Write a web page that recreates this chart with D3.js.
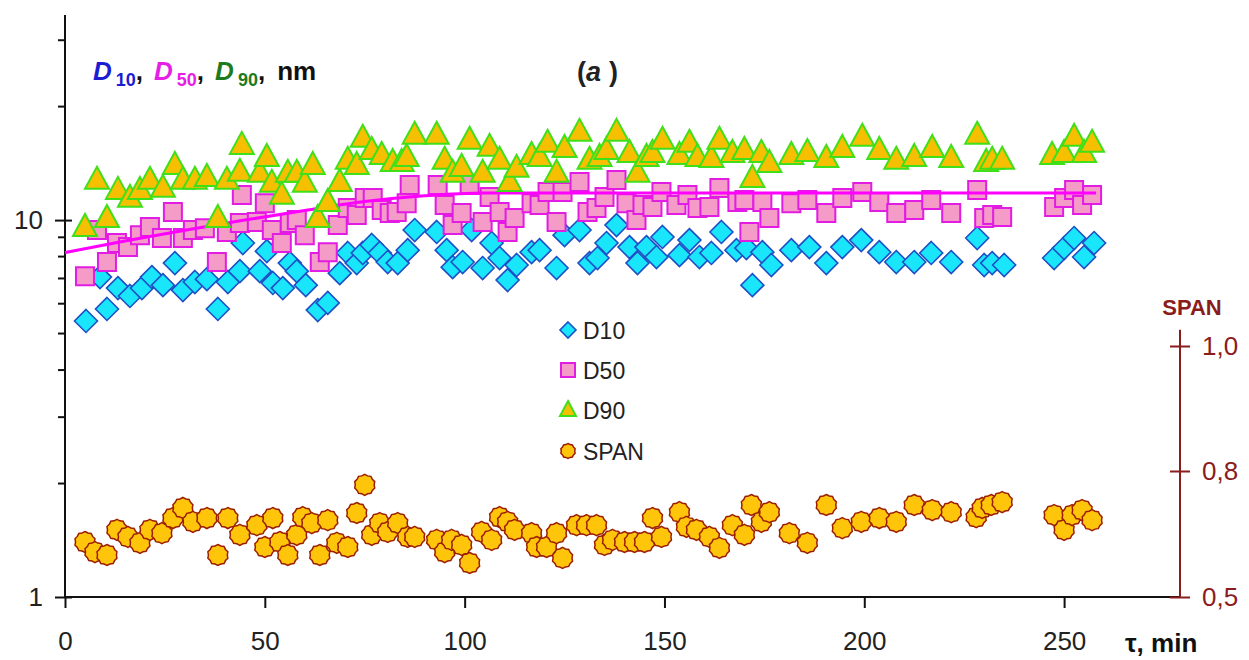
<!DOCTYPE html>
<html><head><meta charset="utf-8">
<script src="https://cdn.jsdelivr.net/npm/d3@7"></script>
<style>
html,body{margin:0;padding:0;background:#fff;}
svg{display:block;font-family:"Liberation Sans",Arial,sans-serif;}
</style></head><body>
<svg id="chart" width="1249" height="660"></svg>
<script>
// Axis ticks
const xTicks = [0, 50, 100, 150, 200, 250];
const yMajorTicks = [1, 10];
const yMinorTicks = [2, 3, 4, 5, 6, 7, 8, 9, 20, 30];
const spanTicks = [0.5, 0.8, 1.0];
const legendNames = ["D10", "D50", "D90", "SPAN"];

// [time, min ; diameter, nm]
const d10 = [[5.25,5.4],[8.75,7.06],[10.5,5.81],[13.25,6.6],[16.25,6.29],[19.25,6.6],[21.75,7.06],[24.5,6.72],[27.5,7.69],[29.5,6.52],[32.5,6.85],[35.5,6.97],[38.25,5.81],[40.75,6.85],[43.75,7.32],[44.5,8.69],[48.75,7.32],[50.5,8.27],[52,6.81],[54.5,6.6],[56.25,7.69],[58,7.32],[60.25,6.72],[63.25,5.77],[65.75,6.03],[68.75,7.23],[70.75,8.18],[73,7.69],[74.5,8.18],[76.75,8.59],[78.75,8.18],[80.75,7.74],[83.25,7.69],[85.75,8.32],[87.5,9.41],[93,9.3],[95.5,8.32],[97,7.5],[99.5,7.74],[101.75,9.41],[104.5,7.46],[106.75,8.69],[108.75,7.93],[110.75,6.93],[113,7.6],[116.75,8.22],[118.75,8.32],[123,7.46],[125,9.12],[128.75,9.41],[131.25,7.69],[133.25,7.93],[135.5,8.69],[138,9.7],[141.25,8.48],[143.25,7.69],[145.5,8.48],[148,7.98],[149.5,9.02],[153.75,8.07],[156.25,8.85],[158.75,7.98],[161.75,8.18],[164.25,9.3],[168,8.32],[170.5,8.43],[172,6.72],[174.5,8.22],[176.75,7.6],[181.75,8.32],[186.25,8.48],[190.5,7.69],[194.5,8.48],[199.25,8.85],[203.75,8.22],[208,7.74],[212.5,7.74],[216.75,8.18],[221.75,7.74],[228.25,8.96],[230,7.6],[232,7.69],[235,7.6],[247.5,7.93],[250,8.43],[252.5,8.96],[255,7.98],[257.5,8.69]];

const d50 = [[5,7.1],[8,9.41],[10.5,7.74],[13,8.69],[15.75,8.48],[18.75,9.12],[21.25,9.58],[24.25,8.96],[27,10.5],[29.5,8.96],[32,9.41],[35,9.52],[38,7.74],[40.5,9.3],[43.75,9.82],[44.25,11.65],[48,9.89],[50,11.09],[51.75,9.41],[54.25,8.69],[56.25,9.82],[58,10.0],[60,9.12],[63.75,7.74],[65.75,8.22],[68.25,9.7],[70.75,10.76],[73,10.31],[75,11.44],[77,11.44],[79.25,10.63],[81.25,10.44],[83,10.5],[85.5,11.09],[86.25,12.38],[93.25,12.38],[95,10.96],[97,9.7],[99.25,10.44],[101.25,12.38],[104.5,9.89],[106.25,11.51],[108.75,10.5],[110.75,9.3],[112.5,10.12],[116.75,11.09],[118.75,10.96],[120.75,11.87],[123,9.89],[124.5,11.87],[128.75,12.61],[130.75,10.5],[133,10.76],[135,11.51],[138,12.77],[140.5,11.09],[143,10.0],[144.5,10.96],[147,10.83],[149.25,11.87],[153,10.96],[155.75,11.65],[158.25,10.76],[161.25,10.83],[163.75,12.16],[168.25,11.16],[170,11.3],[171.25,9.3],[174.5,11.16],[176.25,10.12],[181.75,11.09],[185.75,11.3],[190.5,10.44],[194.5,11.44],[199.5,11.87],[203.75,11.16],[208,10.44],[212.5,10.63],[216.75,11.3],[221.75,10.44],[228.25,12.01],[230,10.12],[232,10.31],[234.5,10.19],[247.5,10.83],[250,11.44],[252.5,12.01],[254.5,10.96],[257,11.65]];

const d90 = [[5,9.58],[8,12.77],[10.5,10.12],[13.25,12.01],[16.25,11.44],[18.75,12.01],[21.25,12.77],[24.5,12.16],[27.5,13.99],[29.5,12.77],[32.5,12.77],[35.5,13.0],[38.25,10.12],[40.5,12.77],[43.75,13.41],[44.25,15.81],[48.75,13.33],[50.5,14.69],[51.75,12.54],[54.25,11.65],[55.75,13.33],[58,13.33],[60,12.54],[62,13.99],[63.25,10.12],[65.75,11.16],[68.75,12.61],[70.75,14.43],[73,13.99],[74.5,16.51],[76.75,15.33],[79.25,14.87],[82,14.25],[84.25,14.25],[85.5,14.69],[87.5,16.81],[93,16.81],[95,14.43],[97,13.33],[99.25,13.82],[101.25,16.31],[104.5,13.33],[106.25,15.62],[108.75,14.43],[111.25,12.61],[113,13.74],[116.75,14.87],[118.75,14.69],[120.75,16.01],[123,13.33],[125,15.52],[128.75,17.12],[131.25,14.43],[133.75,14.69],[135.5,15.33],[138,17.12],[141.25,15.05],[143.25,13.33],[145.5,14.69],[147,15.05],[149.5,16.31],[153.75,14.87],[156.25,16.01],[158.25,14.69],[161.75,14.6],[163.75,16.31],[167,15.05],[170,15.33],[172,12.92],[174.25,15.05],[176.25,14.16],[181.75,14.87],[185.75,15.14],[190.5,14.6],[194.5,15.52],[199.5,16.61],[203.75,15.33],[208,14.43],[212.5,14.69],[217,15.52],[221.75,14.6],[228.25,16.81],[230.5,14.25],[232,14.43],[234.5,14.43],[247,14.87],[250,15.05],[252.5,16.61],[255,15.05],[257,16.01]];

// [time, min ; span]
const span = [[5,0.631],[7.5,0.607],[10.5,0.6],[13,0.66],[15.75,0.643],[18.75,0.629],[21.25,0.66],[24.25,0.652],[27,0.688],[29.5,0.712],[32,0.679],[35.5,0.688],[38.25,0.6],[40.75,0.688],[43.75,0.648],[48,0.671],[50,0.619],[52,0.688],[53.75,0.631],[55.75,0.6],[58,0.648],[59.5,0.69],[61.75,0.676],[63.75,0.6],[65.75,0.683],[68,0.629],[70.75,0.619],[73,0.7],[75,0.767],[76.75,0.648],[78.75,0.676],[80.75,0.655],[83.25,0.676],[85.75,0.643],[87.5,0.643],[93,0.636],[95,0.607],[96.75,0.636],[99.25,0.624],[101.25,0.581],[104.25,0.655],[106.75,0.636],[108.75,0.69],[110.75,0.679],[112.5,0.66],[116.75,0.652],[118,0.619],[120.5,0.619],[123,0.652],[124.5,0.593],[128,0.671],[130.5,0.671],[133,0.671],[135,0.624],[137,0.636],[140,0.631],[142.5,0.631],[145,0.631],[147,0.688],[149.25,0.643],[153.75,0.702],[155.5,0.667],[158,0.66],[161.25,0.643],[163.75,0.617],[167,0.671],[170,0.648],[171.75,0.719],[174.25,0.679],[176.25,0.702],[181.25,0.652],[185.75,0.629],[190.5,0.719],[194.5,0.664],[199.25,0.679],[203.75,0.688],[208,0.679],[212.5,0.719],[217,0.707],[221.75,0.702],[228,0.69],[229.5,0.712],[231.75,0.719],[234.5,0.726],[247.5,0.695],[250,0.66],[252,0.695],[254.5,0.707],[257,0.683]];

// D50 trend curve
const d50Trend = [[0,8.2],[15,8.8],[30,9.4],[45,10.0],[60,10.6],[75,11.2],[90,11.6],[105,11.8],[258,11.8]];

const svg = d3.select("#chart");

const x = d3.scaleLinear().domain([0, 279]).range([65, 1180]);
const y = d3.scaleLog().domain([1, 35]).range([597, 15]);
const ySpan = d3.scaleLinear().domain([0.5, 0.8, 1.0]).range([597, 471, 346]);

const commaFmt = d3.formatLocale({decimal: ",", thousands: " ", grouping: [3], currency: ["", ""]}).format(".1f");

const axisColor = "#111";
const spanColor = "#8b1c1c";
const labelFont = 26;
const fontFamily = "Liberation Sans, Arial, sans-serif";

// ---- left log axis ----
const gy = svg.append("g").attr("transform", `translate(${x(0)},0)`);
gy.call(d3.axisLeft(y).tickValues(yMajorTicks).tickSize(10).tickPadding(12).tickFormat(d3.format("d")));
gy.select(".domain").remove();
gy.selectAll(".tick line").attr("x1", 7).attr("stroke", axisColor).attr("stroke-width", 2);
gy.selectAll(".tick text").attr("font-size", labelFont).attr("font-family", fontFamily).attr("fill", "#222");
gy.selectAll(".minor").data(yMinorTicks).join("line")
  .attr("class", "minor")
  .attr("x1", -7).attr("x2", 0)
  .attr("y1", d => y(d)).attr("y2", d => y(d))
  .attr("stroke", axisColor).attr("stroke-width", 2);
gy.append("line").attr("x1", 0).attr("x2", 0).attr("y1", y(1)).attr("y2", y(35))
  .attr("stroke", axisColor).attr("stroke-width", 2);

// ---- bottom axis ----
const gx = svg.append("g").attr("transform", `translate(0,${y(1)})`);
gx.call(d3.axisBottom(x).tickValues(xTicks).tickSize(11).tickPadding(24));
gx.select(".domain").remove();
gx.selectAll(".tick line").attr("stroke", axisColor).attr("stroke-width", 2);
gx.selectAll(".tick text").attr("font-size", labelFont).attr("font-family", fontFamily).attr("fill", "#222");
gx.append("line").attr("x1", x(0)).attr("x2", x(279)).attr("y1", 0).attr("y2", 0)
  .attr("stroke", axisColor).attr("stroke-width", 2);

// ---- right SPAN axis ----
const gr = svg.append("g").attr("transform", `translate(${x(279)},0)`);
gr.call(d3.axisRight(ySpan).tickValues(spanTicks).tickSize(10).tickPadding(12).tickFormat(commaFmt));
gr.select(".domain").remove();
gr.selectAll(".tick line").attr("x1", -10).attr("stroke", spanColor).attr("stroke-width", 2);
gr.selectAll(".tick text").attr("font-size", labelFont).attr("font-family", fontFamily).attr("fill", spanColor);
gr.append("line").attr("x1", 0).attr("x2", 0).attr("y1", ySpan(0.5)).attr("y2", ySpan(1.026))
  .attr("stroke", spanColor).attr("stroke-width", 2);
svg.append("text").attr("x", x(279) + 12).attr("y", 315).attr("text-anchor", "middle")
  .attr("font-size", 22).attr("font-weight", "bold").attr("fill", spanColor).text("SPAN");

svg.append("text").attr("x", 1125).attr("y", 652)
  .attr("font-size", 26).attr("font-weight", "bold").attr("fill", "#111").text("τ, min");

// ---- marker shapes ----
const diamondPath = r => `M0,${-r}L${r},0L0,${r}L${-r},0Z`;
const squarePath = s => `M${-s/2},${-s/2}H${s/2}V${s/2}H${-s/2}Z`;
const trianglePath = (w, h) => `M0,${-h*0.6}L${w/2},${h*0.4}L${-w/2},${h*0.4}Z`;
const gearPath = r => {
  const n = 20;
  const pts = d3.range(n).map(i => {
    const a = i / n * 2 * Math.PI;
    const rr = i % 2 ? r * 0.9 : r;
    return [Math.sin(a) * rr, -Math.cos(a) * rr];
  });
  return "M" + pts.map(p => p.join(",")).join("L") + "Z";
};

const styles = {
  D10: {path: diamondPath(11.5), fill: "#19e6fa", stroke: "#1f4fc6", sw: 1.6, lpath: diamondPath(8)},
  D50: {path: squarePath(18), fill: "#f59bc8", stroke: "#e21ce2", sw: 2, lpath: squarePath(14)},
  D90: {path: trianglePath(24, 22), fill: "#f6bf00", stroke: "#3fe01a", sw: 2, lpath: trianglePath(16, 15)},
  SPAN: {path: gearPath(10.5), fill: "#ffc50a", stroke: "#9c1e00", sw: 1.5, lpath: gearPath(7.5)}
};

function drawSeries(data, st, ys) {
  svg.append("g").selectAll("path").data(data).join("path")
    .attr("transform", d => `translate(${x(d[0])},${ys(d[1])})`)
    .attr("d", st.path)
    .attr("fill", st.fill).attr("stroke", st.stroke).attr("stroke-width", st.sw);
}

drawSeries(d10, styles.D10, y);
drawSeries(d50, styles.D50, y);

svg.append("path").datum(d50Trend)
  .attr("d", d3.line().x(d => x(d[0])).y(d => y(d[1])).curve(d3.curveMonotoneX))
  .attr("fill", "none").attr("stroke", "#f0f").attr("stroke-width", 3);

drawSeries(d90, styles.D90, y);
drawSeries(span, styles.SPAN, ySpan);

// ---- legend ----
const legendY = [330, 370, 410, 451];
const lg = svg.append("g");
legendNames.forEach((name, i) => {
  const st = styles[name];
  lg.append("path").attr("transform", `translate(568,${legendY[i]})`).attr("d", st.lpath)
    .attr("fill", st.fill).attr("stroke", st.stroke).attr("stroke-width", st.sw);
  lg.append("text").attr("x", 583).attr("y", legendY[i] + 8.5)
    .attr("font-size", 23).attr("fill", "#222").text(name);
});

// ---- headings ----
const title = svg.append("text").attr("x", 93).attr("y", 80).attr("font-size", 26).attr("font-weight", "bold");
const parts = [["D", "10", "#1c1cd2"], ["D", "50", "#e61ee6"], ["D", "90", "#1e7a1e"]];
parts.forEach(([letter, sub, col], i) => {
  title.append("tspan").attr("font-style", "italic").attr("fill", col).attr("dx", i ? 11 : 0).text(letter);
  title.append("tspan").attr("font-size", 18).attr("fill", col).attr("dx", 4).attr("dy", 6).text(sub);
  title.append("tspan").attr("fill", "#111").attr("dy", -6).text(",");
});
title.append("tspan").attr("fill", "#111").attr("dx", 12).text("nm");

const lab = svg.append("text").attr("x", 577).attr("y", 81).attr("font-size", 27).attr("font-weight", "bold").attr("fill", "#222");
lab.append("tspan").text("(");
lab.append("tspan").attr("font-style", "italic").text("a");
lab.append("tspan").attr("dx", 8).text(")");
</script>
</body></html>
